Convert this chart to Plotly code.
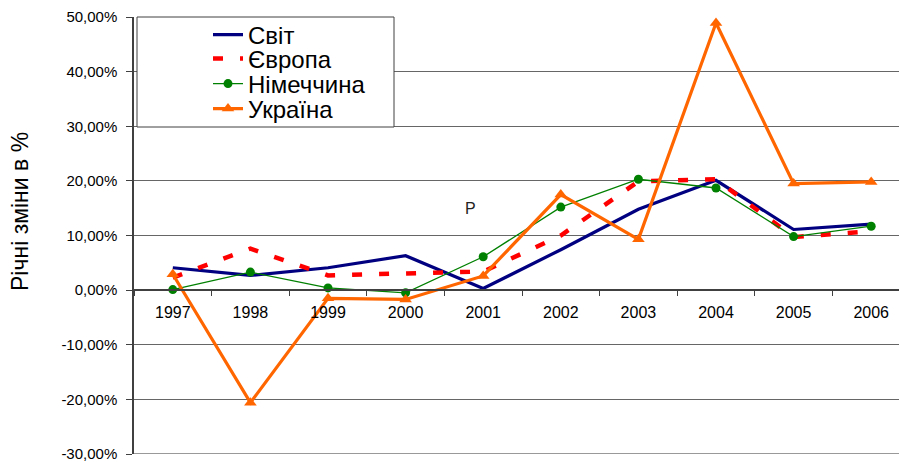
import plotly.graph_objects as go

years = ["1997", "1998", "1999", "2000", "2001", "2002", "2003", "2004", "2005", "2006"]
svit = [4.1, 2.7, 4.1, 6.3, 0.3, 7.4, 14.8, 20.1, 11.1, 12.1]
yevropa = [2.3, 7.6, 2.7, 3.0, 3.4, 10.0, 19.9, 20.3, 9.7, 10.8]
nimechchyna = [0.1, 3.3, 0.4, -0.5, 6.1, 15.2, 20.3, 18.7, 9.8, 11.7]
ukraina = [2.9, -20.6, -1.5, -1.7, 2.6, 17.5, 9.3, 48.9, 19.5, 19.8]
y_ticks = [-30, -20, -10, 0, 10, 20, 30, 40, 50]
y_ticktext = [("%.2f" % v).replace(".", ",") + "%" for v in y_ticks]

W, H = 899, 462
ML, MR, MT, MB = 134, 0, 17, 8
FONT = "Liberation Sans, Arial, sans-serif"

pw = W - ML - MR
ph = H - MT - MB
def px_x(p):
    return (p - ML) / pw
def px_y(p):
    return (H - MB - p) / ph

fig = go.Figure()
fig.add_trace(go.Scatter(x=years, y=svit, name="Світ", mode="lines",
                         line=dict(color="#000080", width=3.2), legend="legend"))
fig.add_trace(go.Scatter(x=years, y=yevropa, name="Європа", mode="lines",
                         line=dict(color="#FF0000", width=4.5, dash="10px,17px"),
                         legend="legend2"))
fig.add_trace(go.Scatter(x=years, y=nimechchyna, name="Німеччина", mode="lines+markers",
                         line=dict(color="#008000", width=1.3),
                         marker=dict(symbol="circle", size=9, color="#008000"),
                         legend="legend3"))
fig.add_trace(go.Scatter(x=years, y=ukraina, name="Україна", mode="lines+markers",
                         line=dict(color="#FF6600", width=3.2),
                         marker=dict(symbol="triangle-up", size=11, color="#FF6600"),
                         legend="legend4"))

# bottom border of plot area
fig.add_shape(type="line", xref="paper", yref="y", x0=0, x1=1, y0=-30, y1=-30,
              line=dict(color="#999999", width=2), layer="below")
# legend frame
fig.add_shape(type="rect", xref="paper", yref="paper",
              x0=px_x(137), x1=px_x(394), y0=px_y(127), y1=px_y(17),
              line=dict(color="#404040", width=1), fillcolor="white", layer="above")

fig.add_annotation(x=3.83, y=15, text="P", showarrow=False,
                   font=dict(family=FONT, size=16, color="#222222"))
fig.add_annotation(xref="paper", yref="paper", x=px_x(20), y=px_y(212),
                   text="Річні зміни в %", textangle=-90, showarrow=False,
                   xanchor="center", yanchor="middle",
                   font=dict(family=FONT, size=23, color="black"))

def leg(yc):
    return dict(x=px_x(208), y=px_y(yc), xanchor="left", yanchor="middle",
                bgcolor="rgba(0,0,0,0)", borderwidth=0,
                font=dict(family=FONT, size=24, color="black"))

fig.update_layout(
    width=W, height=H,
    margin=dict(l=ML, r=MR, t=MT, b=MB, pad=0),
    paper_bgcolor="white", plot_bgcolor="white",
    font=dict(family=FONT, size=15, color="black"),
    showlegend=True,
    legend=leg(35), legend2=leg(59), legend3=leg(84), legend4=leg(109),
    xaxis=dict(type="category", range=[-0.5, -0.5 + pw / 77.6],
               anchor="free", position=30 / 80,
               showline=True, linecolor="#404040", linewidth=1.5,
               ticks="outside", tickson="boundaries", ticklen=5, tickcolor="#404040",
               showgrid=False, zeroline=False, ticklabelstandoff=8,
               tickfont=dict(size=16)),
    yaxis=dict(range=[-30, 50], tickvals=y_ticks, ticktext=y_ticktext,
               showline=True, linecolor="#404040", linewidth=1.5,
               ticks="outside", ticklen=6, tickcolor="#404040",
               showgrid=True, gridcolor="#666666", gridwidth=1,
               zeroline=True, zerolinecolor="#333333", zerolinewidth=1.5,
               ticklabelstandoff=6, ticklabeloverflow="allow",
               tickfont=dict(size=15)),
)

fig.write_html("out.html", config={"displayModeBar": False},
               post_script="document.body.style.margin='0px';")
